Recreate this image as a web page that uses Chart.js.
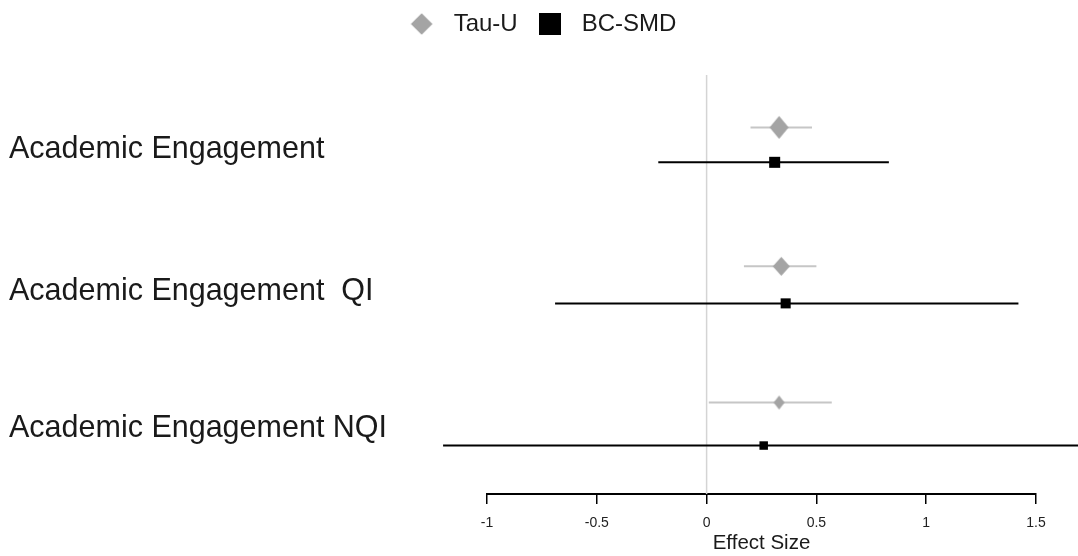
<!DOCTYPE html>
<html>
<head>
<meta charset="utf-8">
<script src="https://cdn.jsdelivr.net/npm/chart.js@4/dist/chart.umd.min.js"></script>
<style>
  html, body { margin: 0; padding: 0; background: #ffffff; }
  canvas { display: block; }
</style>
</head>
<body>
<canvas id="forest" width="1078" height="556"></canvas>
<script>
// Outcomes, one row each (top to bottom)
const outcomes = ['Academic Engagement', 'Academic Engagement  QI', 'Academic Engagement NQI'];

// Tau-U: estimate and 95% confidence limits
const tauEst  = [0.33, 0.34, 0.33];
const tauLow  = [0.20, 0.17, 0.01];
const tauHigh = [0.48, 0.50, 0.57];

// BC-SMD: estimate and 95% confidence limits
const smdEst  = [0.31, 0.36, 0.26];
const smdLow  = [-0.22, -0.69, -1.20];
const smdHigh = [0.83, 1.42, 1.72];

// Effect size axis ticks
const xTicks = [-1, -0.5, 0, 0.5, 1, 1.5];

// ---- layout and style (kept apart from the values) ----
const rowCenter   = [0.5, 1.5, 2.5];
const tauOffset   = [-0.125, -0.13, -0.155];
const smdOffset   = [0.125, 0.135, 0.153];
const labelOffset = [0.035, 0.052, 0.033];
const tauMarker   = [[9.5, 11.5], [8.5, 9.5], [5.5, 7]];  // half width, half height
const smdMarker   = [7.8, 7.1, 6.0];                      // rect radius
const TAU_LINE = '#c6c6c6', TAU_FILL = '#a4a4a4', SMD_COL = '#000000', ZERO_COL = '#d4d4d4';
const TEXT_COL = '#1a1a1a';

Chart.defaults.font.family = '"Liberation Sans", Arial, Helvetica, sans-serif';

function diamond(hw, hh, color) {
  const c = document.createElement('canvas');
  c.width = Math.ceil(hw * 2) + 2;
  c.height = Math.ceil(hh * 2) + 2;
  const g = c.getContext('2d');
  const cx = c.width / 2, cy = c.height / 2;
  g.fillStyle = color;
  g.beginPath();
  g.moveTo(cx, cy - hh);
  g.lineTo(cx + hw, cy);
  g.lineTo(cx, cy + hh);
  g.lineTo(cx - hw, cy);
  g.closePath();
  g.fill();
  return c;
}
function square(side, color) {
  const c = document.createElement('canvas');
  c.width = side; c.height = side;
  const g = c.getContext('2d');
  g.fillStyle = color;
  g.fillRect(0, 0, side, side);
  return c;
}

const tauY = rowCenter.map((c, i) => c + tauOffset[i]);
const smdY = rowCenter.map((c, i) => c + smdOffset[i]);
const labelY = rowCenter.map((c, i) => c + labelOffset[i]);

const datasets = [
  {
    label: 'Tau-U',
    data: tauEst.map((v, i) => ({ x: v, y: tauY[i] })),
    pointStyle: tauMarker.map(m => diamond(m[0], m[1], TAU_FILL)),
    pointRadius: tauMarker.map(m => Math.max(m[0], m[1])),
    backgroundColor: TAU_FILL, borderColor: TAU_FILL, borderWidth: 0,
    showLine: false, order: 0, clip: false
  },
  {
    label: 'BC-SMD',
    data: smdEst.map((v, i) => ({ x: v, y: smdY[i] })),
    pointStyle: 'rect',
    pointRadius: smdMarker,
    backgroundColor: SMD_COL, borderColor: SMD_COL, borderWidth: 0,
    showLine: false, order: 0, clip: false
  }
];

// confidence interval segments
outcomes.forEach((name, i) => {
  datasets.push({
    label: 'Tau-U CI ' + name,
    data: [{ x: tauLow[i], y: tauY[i] }, { x: tauHigh[i], y: tauY[i] }],
    showLine: true, borderColor: TAU_LINE, borderWidth: 2, pointRadius: 0,
    order: 1, clip: false
  });
  datasets.push({
    label: 'BC-SMD CI ' + name,
    data: [{ x: smdLow[i], y: smdY[i] }, { x: smdHigh[i], y: smdY[i] }],
    showLine: true, borderColor: SMD_COL, borderWidth: 2, pointRadius: 0,
    order: 1, clip: false
  });
});

// line of no effect
datasets.push({
  label: 'no effect',
  data: [{ x: 0, y: 0 }, { x: 0, y: 3 }],
  showLine: true, borderColor: ZERO_COL, borderWidth: 1.5, pointRadius: 0,
  order: 2
});

new Chart(document.getElementById('forest'), {
  type: 'scatter',
  data: { datasets },
  options: {
    responsive: false,
    animation: false,
    events: [],
    layout: { padding: { left: 9, right: 9, top: 0, bottom: 0 } },
    plugins: {
      tooltip: { enabled: false },
      legend: {
        position: 'top',
        align: 'center',
        labels: {
          usePointStyle: true,
          pointStyleWidth: 40,
          padding: 12,
          color: TEXT_COL,
          font: { size: 24 },
          generateLabels: () => [
            { text: 'Tau-U', pointStyle: diamond(10.8, 10.8, TAU_FILL), fillStyle: TAU_FILL,
              strokeStyle: TAU_FILL, lineWidth: 0, hidden: false, datasetIndex: 0, fontColor: TEXT_COL },
            { text: 'BC-SMD', pointStyle: square(22, SMD_COL), fillStyle: SMD_COL,
              strokeStyle: SMD_COL, lineWidth: 0, hidden: false, datasetIndex: 1, fontColor: TEXT_COL }
          ]
        }
      }
    },
    scales: {
      x: {
        type: 'linear',
        position: 'bottom',
        min: xTicks[0],
        max: xTicks[xTicks.length - 1],
        afterBuildTicks: s => { s.ticks = xTicks.map(v => ({ value: v })); },
        afterFit: s => { s.height = 62; },
        grid: { display: true, drawOnChartArea: false, drawTicks: true, tickLength: 10,
                color: '#000000', lineWidth: 1.5 },
        border: { display: true, color: '#000000', width: 2 },
        ticks: { color: '#222222', font: { size: 14 }, padding: 11, maxRotation: 0, autoSkip: false,
                 callback: v => String(v) },
        title: { display: true, text: 'Effect Size', color: TEXT_COL, font: { size: 20.5 },
                 padding: { top: 0, bottom: 0 } }
      },
      y: {
        type: 'linear',
        position: 'left',
        reverse: true,
        min: -0.208,
        max: 3,
        afterBuildTicks: s => { s.ticks = labelY.map(v => ({ value: v })); },
        afterFit: s => { s.width = 478; },
        grid: { display: false },
        border: { display: false },
        ticks: {
          crossAlign: 'far',
          autoSkip: false,
          color: TEXT_COL,
          font: { size: 30.5 },
          callback: (v, i) => outcomes[i]
        }
      },
      yRight: {
        type: 'linear',
        position: 'right',
        display: true,
        afterFit: s => { s.width = 33; },
        grid: { display: false },
        border: { display: false },
        ticks: { display: false }
      }
    }
  }
});
</script>
</body>
</html>
